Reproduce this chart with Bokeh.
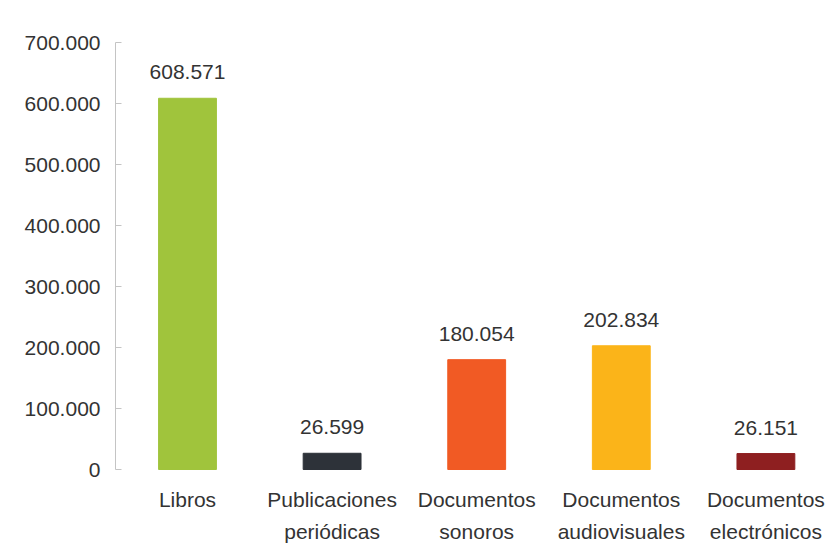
from bokeh.plotting import figure
from bokeh.models import ColumnDataSource, FixedTicker, Range1d
from bokeh.core.properties import value
from bokeh.embed import file_html
from bokeh.resources import INLINE

categories = ["Libros", "Publicaciones\nperiódicas", "Documentos\nsonoros",
              "Documentos\naudiovisuales", "Documentos\nelectrónicos"]
values = [608571, 26599, 180054, 202834, 26151]
value_labels = ["608.571", "26.599", "180.054", "202.834", "26.151"]
colors = ["#A0C43C", "#2D3239", "#F15A24", "#FBB419", "#8E1F20"]
y_ticks = [0, 100000, 200000, 300000, 400000, 500000, 600000, 700000]
y_tick_labels = ["0", "100.000", "200.000", "300.000", "400.000", "500.000", "600.000", "700.000"]

FONT = "Liberation Sans"
TXT = "#333333"

xs = list(range(len(categories)))
line1 = [c.split("\n")[0] for c in categories]
line2 = [c.split("\n")[1] if "\n" in c else "" for c in categories]

src = ColumnDataSource(dict(x=xs, top=values, color=colors, lab=value_labels,
                            l1=line1, l2=line2, zero=[0] * len(xs)))

W, H = 829, 555
AXIS_X = 115          # page x of the y axis
Y0 = 469              # page y of value 0
Y700 = 42             # page y of value 700.000
px_per_unit = (Y0 - Y700) / 700000
y_end = 700000 + Y700 / px_per_unit
y_start = -(H - Y0) / px_per_unit
step = 144.6
x_start = -(187 - AXIS_X) / step
x_end = x_start + (W - AXIS_X) / step

p = figure(width=W, height=H, output_backend="svg", toolbar_location=None,
           x_range=Range1d(x_start, x_end), y_range=Range1d(y_start, y_end),
           x_axis_location=None, min_border_left=AXIS_X, min_border_right=0,
           min_border_top=0, min_border_bottom=0)
p.outline_line_color = None
p.xgrid.visible = False
p.ygrid.visible = False
p.background_fill_color = "white"
p.border_fill_color = "white"

p.vbar(x="x", top="top", bottom=0, width=0.4, color="color", source=src)

p.text(x="x", y="top", text="lab", source=src, text_align="center",
       text_baseline="alphabetic", y_offset=-26, text_font=value(FONT),
       text_font_size="21px", text_color=TXT)
p.text(x="x", y="zero", text="l1", source=src, text_align="center",
       text_baseline="alphabetic", y_offset=30, text_font=value(FONT),
       text_font_size="21px", text_color=TXT)
p.text(x="x", y="zero", text="l2", source=src, text_align="center",
       text_baseline="alphabetic", y_offset=62, text_font=value(FONT),
       text_font_size="21px", text_color=TXT)

ax = p.yaxis[0]
ax.ticker = FixedTicker(ticks=y_ticks)
ax.major_label_overrides = {t: l for t, l in zip(y_ticks, y_tick_labels)}
ax.bounds = (0, 700000)
ax.axis_line_color = "#C4C4C4"
ax.major_tick_line_color = "#C4C4C4"
ax.major_tick_in = 6
ax.major_tick_out = 0
ax.minor_tick_line_color = None
ax.major_label_standoff = 15
ax.major_label_text_font = FONT
ax.major_label_text_font_size = "21px"
ax.major_label_text_color = TXT

open("out.html", "w").write(file_html(p, INLINE))
